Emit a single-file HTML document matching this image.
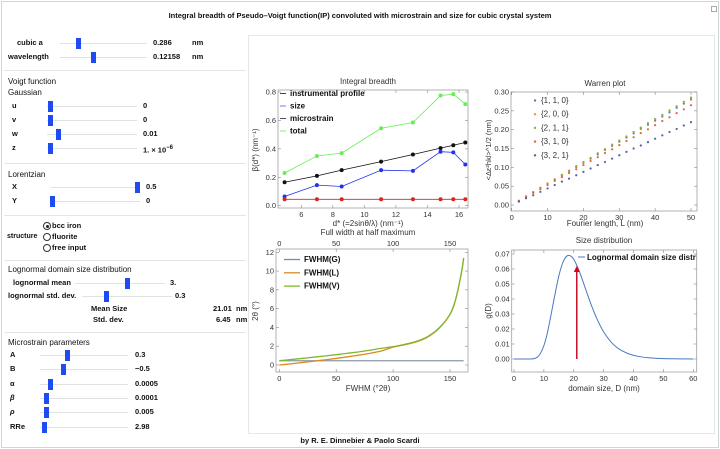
<!DOCTYPE html>
<html><head><meta charset="utf-8">
<style>
body{margin:0;background:#fff;font-family:"Liberation Sans",sans-serif;}
#root{position:relative;width:720px;height:449px;overflow:hidden;background:#fff;}
.t{position:absolute;font-size:8px;color:#111;white-space:nowrap;line-height:10px;}
.b{font-weight:bold;font-size:7.5px;}
.sep{position:absolute;left:4px;width:242px;height:1px;background:#e4e6e6;}
.track{position:absolute;height:1px;background:#e2e2e2;}
.handle{position:absolute;width:5px;height:11px;background:#1f4cf0;}
.radio{position:absolute;width:6px;height:6px;border:1px solid #333;border-radius:50%;background:#fff;}
svg text{font-family:"Liberation Sans",sans-serif;}
</style></head><body>
<div id="root">
<div style="position:absolute;left:1px;top:1px;width:716px;height:445px;border:1px solid #cfd6d6;"></div>
<div class="t b" style="left:0;width:720px;text-align:center;top:11px;">Integral breadth of Pseudo–Voigt function(IP) convoluted with microstrain and size for cubic crystal system</div>
<div style="position:absolute;left:711px;top:6px;width:4px;height:4px;border:1px solid #aaa;"></div>
<div style="position:absolute;left:248px;top:35px;width:465px;height:397px;border:1px solid #e3e8e8;"></div>

<div class="t b" style="left:17px;top:38px;">cubic a</div>
<div class="track" style="left:60px;top:43px;width:87px;"></div>
<div class="handle" style="left:76px;top:38px;"></div>
<div class="t b" style="left:153px;top:38px;">0.286</div>
<div class="t b" style="left:192px;top:38px;">nm</div>
<div class="t b" style="left:8px;top:52px;">wavelength</div>
<div class="track" style="left:60px;top:57px;width:87px;"></div>
<div class="handle" style="left:91px;top:52px;"></div>
<div class="t b" style="left:153px;top:52px;">0.12158</div>
<div class="t b" style="left:192px;top:52px;">nm</div>
<div class="sep" style="top:70px;"></div>

<div class="t" style="left:8px;top:77px;">Voigt function</div>
<div class="t" style="left:8px;top:88px;">Gaussian</div>
<div class="t b" style="left:12px;top:101px;">u</div>
<div class="track" style="left:47px;top:106px;width:90px;"></div>
<div class="handle" style="left:48px;top:101px;"></div>
<div class="t b" style="left:143px;top:101px;">0</div>
<div class="t b" style="left:12px;top:115px;">v</div>
<div class="track" style="left:47px;top:120px;width:90px;"></div>
<div class="handle" style="left:48px;top:115px;"></div>
<div class="t b" style="left:143px;top:115px;">0</div>
<div class="t b" style="left:12px;top:129px;">w</div>
<div class="track" style="left:47px;top:134px;width:90px;"></div>
<div class="handle" style="left:56px;top:129px;"></div>
<div class="t b" style="left:143px;top:129px;">0.01</div>
<div class="t b" style="left:12px;top:143px;">z</div>
<div class="track" style="left:47px;top:148px;width:90px;"></div>
<div class="handle" style="left:48px;top:143px;"></div>
<div class="t b" style="left:143px;top:143px;">1. × 10<sup style="font-size:6px">−6</sup></div>
<div class="sep" style="top:163px;"></div>

<div class="t" style="left:8px;top:170px;">Lorentzian</div>
<div class="t b" style="left:12px;top:182px;">X</div>
<div class="track" style="left:50px;top:187px;width:90px;"></div>
<div class="handle" style="left:135px;top:182px;"></div>
<div class="t b" style="left:146px;top:182px;">0.5</div>
<div class="t b" style="left:12px;top:196px;">Y</div>
<div class="track" style="left:50px;top:201px;width:90px;"></div>
<div class="handle" style="left:50px;top:196px;"></div>
<div class="t b" style="left:146px;top:196px;">0</div>
<div class="sep" style="top:215px;"></div>

<div class="radio" style="left:43px;top:222px;"><div style="position:absolute;left:1.5px;top:1.5px;width:3px;height:3px;border-radius:50%;background:#222"></div></div>
<div class="t b" style="left:52px;top:221px;">bcc iron</div>
<div class="t b" style="left:7px;top:232px;font-size:7px;">structure</div>
<div class="radio" style="left:43px;top:233px;"></div>
<div class="t b" style="left:52px;top:232px;">fluorite</div>
<div class="radio" style="left:43px;top:244px;"></div>
<div class="t b" style="left:52px;top:243px;">free input</div>
<div class="sep" style="top:260px;"></div>

<div class="t" style="left:8px;top:265px;">Lognormal domain size distribution</div>
<div class="t b" style="left:13px;top:278px;">lognormal mean</div>
<div class="track" style="left:75px;top:283px;width:90px;"></div>
<div class="handle" style="left:125px;top:278px;"></div>
<div class="t b" style="left:170px;top:278px;">3.</div>
<div class="t b" style="left:8px;top:291px;">lognormal std. dev.</div>
<div class="track" style="left:82px;top:296px;width:90px;"></div>
<div class="handle" style="left:104px;top:291px;"></div>
<div class="t b" style="left:175px;top:291px;">0.3</div>
<div class="t b" style="left:91px;top:304px;">Mean Size</div>
<div class="t b" style="left:213px;top:304px;">21.01</div>
<div class="t b" style="left:236px;top:304px;">nm</div>
<div class="t b" style="left:93px;top:315px;">Std. dev.</div>
<div class="t b" style="left:216px;top:315px;">6.45</div>
<div class="t b" style="left:236px;top:315px;">nm</div>
<div class="sep" style="top:332px;"></div>

<div class="t" style="left:8px;top:338px;">Microstrain parameters</div>
<div class="t b" style="left:10px;top:350px;">A</div>
<div class="track" style="left:40px;top:355px;width:88px;"></div>
<div class="handle" style="left:65px;top:350px;"></div>
<div class="t b" style="left:135px;top:350px;">0.3</div>
<div class="t b" style="left:10px;top:364px;">B</div>
<div class="track" style="left:40px;top:369px;width:88px;"></div>
<div class="handle" style="left:61px;top:364px;"></div>
<div class="t b" style="left:135px;top:364px;">−0.5</div>
<div class="t b" style="left:10px;top:379px;">α</div>
<div class="track" style="left:40px;top:384px;width:88px;"></div>
<div class="handle" style="left:48px;top:379px;"></div>
<div class="t b" style="left:135px;top:379px;">0.0005</div>
<div class="t b" style="left:10px;top:393px;font-style:italic">β</div>
<div class="track" style="left:40px;top:398px;width:88px;"></div>
<div class="handle" style="left:44px;top:393px;"></div>
<div class="t b" style="left:135px;top:393px;">0.0001</div>
<div class="t b" style="left:10px;top:407px;font-style:italic">ρ</div>
<div class="track" style="left:40px;top:412px;width:88px;"></div>
<div class="handle" style="left:44px;top:407px;"></div>
<div class="t b" style="left:135px;top:407px;">0.005</div>
<div class="t b" style="left:10px;top:422px;">RRe</div>
<div class="track" style="left:40px;top:427px;width:88px;"></div>
<div class="handle" style="left:42px;top:422px;"></div>
<div class="t b" style="left:135px;top:422px;">2.98</div>

<div class="t b" style="left:0;width:720px;text-align:center;top:436px;">by R. E. Dinnebier &amp; Paolo Scardi</div>

<svg id="charts" width="720" height="449" style="position:absolute;left:0;top:0;"></svg>
</div>
<script>
// ---- Integral breadth data ----
const ibDstar = [4.94, 6.99, 8.56, 11.06, 13.08, 14.83, 15.64, 16.4];
const ibInstrumental = [0.165, 0.21, 0.25, 0.31, 0.36, 0.405, 0.425, 0.445];
const ibSize = [0.065, 0.145, 0.135, 0.25, 0.245, 0.38, 0.375, 0.29];
const ibMicrostrain = [0.045, 0.045, 0.045, 0.045, 0.045, 0.045, 0.045, 0.045];
const ibTotal = [0.23, 0.35, 0.37, 0.545, 0.585, 0.775, 0.785, 0.715];
const ibXTicks = [6, 8, 10, 12, 14, 16];
const ibYTicks = [0.0, 0.2, 0.4, 0.6, 0.8];
const ibLegend = ["instrumental profile", "size", "microstrain", "total"];
// ---- Warren plot data ----
const warrenL = [2,4,6,8,10,12,14,16,18,20,22,24,26,28,30,32,34,36,38,40,42,44,46,48,50];
const warren110 = [0.011,0.022,0.034,0.045,0.056,0.067,0.078,0.090,0.101,0.112,0.123,0.134,0.146,0.157,0.168,0.179,0.190,0.202,0.213,0.224,0.235,0.246,0.258,0.269,0.280];
const warren200 = [0.011,0.023,0.034,0.046,0.057,0.068,0.080,0.091,0.103,0.114,0.125,0.137,0.148,0.160,0.171,0.182,0.194,0.205,0.217,0.228,0.239,0.251,0.262,0.274,0.285];
const warren211 = [0.011,0.023,0.034,0.046,0.057,0.068,0.080,0.091,0.103,0.114,0.125,0.137,0.148,0.160,0.171,0.182,0.194,0.205,0.217,0.228,0.239,0.251,0.262,0.274,0.285];
const warren310 = [0.011,0.021,0.032,0.042,0.053,0.064,0.074,0.085,0.095,0.106,0.117,0.127,0.138,0.148,0.159,0.170,0.180,0.191,0.201,0.212,0.223,0.233,0.244,0.254,0.265];
const warren321 = [0.009,0.018,0.026,0.035,0.044,0.053,0.062,0.070,0.079,0.088,0.097,0.106,0.114,0.123,0.132,0.141,0.150,0.158,0.167,0.176,0.185,0.194,0.202,0.211,0.220];
const warrenLegend = ["{1, 1, 0}", "{2, 0, 0}", "{2, 1, 1}", "{3, 1, 0}", "{3, 2, 1}"];
const warrenXTicks = [0, 10, 20, 30, 40, 50];
const warrenYTicks = [0.00, 0.05, 0.10, 0.15, 0.20, 0.25, 0.30];
// ---- FWHM data ----
const fwhmX = [0,10,20,30,40,50,60,70,80,90,100,110,120,130,140,150,155,160,162];
const fwhmG = [0.45,0.45,0.45,0.45,0.45,0.45,0.45,0.45,0.45,0.45,0.45,0.45,0.45,0.45,0.45,0.45,0.45,0.45,0.45];
const fwhmL = [0.0,0.12,0.26,0.4,0.55,0.7,0.87,1.05,1.25,1.5,1.9,2.15,2.45,2.95,3.85,5.4,7.0,9.8,11.4];
const fwhmV = [0.46,0.58,0.7,0.83,0.96,1.1,1.25,1.4,1.58,1.78,1.95,2.2,2.5,3.0,3.9,5.4,7.0,9.8,11.4];
const fwhmXTicks = [0, 50, 100, 150];
const fwhmYTicks = [0, 2, 4, 6, 8, 10, 12];
const fwhmLegend = ["FWHM(G)", "FWHM(L)", "FWHM(V)"];
// ---- Size distribution data ----
const sizeD = [0,4,6,7,8,9,10,11,12,13,14,15,16,17,18,19,20,21,22,23,24,26,28,30,33,36,40,45,50,55,60];
const sizeG = [0,0,0.00007,0.0004,0.0015,0.0043,0.0089,0.0160,0.0254,0.0358,0.046,0.0554,0.0624,0.0670,0.069,0.0686,0.0665,0.0625,0.0577,0.0521,0.0464,0.0353,0.0257,0.0181,0.0102,0.0056,0.0024,0.0008,0.00026,0.0001,0];
const sizeMean = [21.01];
const sizeArrowTop = [0.062];
const sizeXTicks = [0, 10, 20, 30, 40, 50, 60];
const sizeYTicks = [0.00, 0.01, 0.02, 0.03, 0.04, 0.05, 0.06, 0.07];

const NS = "http://www.w3.org/2000/svg";
const svg = document.getElementById('charts');
function el(tag, attrs, parent) {
  const e = document.createElementNS(NS, tag);
  for (const k in attrs) e.setAttribute(k, attrs[k]);
  (parent || svg).appendChild(e);
  return e;
}
function txt(s, x, y, size, anchor, parent, bold) {
  const t = el('text', {x: x, y: y, 'font-size': size, 'text-anchor': anchor || 'middle', fill: '#333', 'font-weight': bold ? 'bold' : 'normal'}, parent);
  t.textContent = s;
  return t;
}
function lin(d0, d1, r0, r1) { return v => r0 + (v - d0) * (r1 - r0) / (d1 - d0); }
function frame(name, x0, y0, x1, y1) {
  const g = el('g', {});
  
  
  const r = el('rect', {x: x0, y: y0, width: x1 - x0, height: y1 - y0, fill: 'none', stroke: '#a0a0a0', 'stroke-width': 0.8}, g);
  
  
  return g;
}
function xTicks(g, ticks, sx, y0, y1, fmt, top) {
  ticks.forEach(v => {
    const x = sx(v);
    el('line', {x1: x, x2: x, y1: y1, y2: y1 - 3, stroke: '#888', 'stroke-width': 0.6}, g);
    el('line', {x1: x, x2: x, y1: y0, y2: y0 + 3, stroke: '#888', 'stroke-width': 0.6}, g);
    const t = txt(fmt(v), x, y1 + 9, 7.5, 'middle', g);
    
    
    if (top) {
      const t2 = txt(fmt(v), x, y0 - 3, 7.5, 'middle', g);
      
      
    }
  });
}
function yTicks(g, ticks, sy, x0, x1, fmt) {
  ticks.forEach(v => {
    const y = sy(v);
    el('line', {x1: x0, x2: x0 + 3, y1: y, y2: y, stroke: '#888', 'stroke-width': 0.6}, g);
    el('line', {x1: x1, x2: x1 - 3, y1: y, y2: y, stroke: '#888', 'stroke-width': 0.6}, g);
    const t = txt(fmt(v), x0 - 2, y + 2.5, 7.5, 'end', g);
    
    
  });
}
function poly(g, xs, ys, sx, sy, color, w, name) {
  const p = el('polyline', {points: xs.map((x, i) => sx(x) + ',' + sy(ys[i])).join(' '), fill: 'none', stroke: color, 'stroke-width': w}, g);
  
  
  return p;
}
function smooth(g, xs, ys, sx, sy, color, w, name) {
  const P = xs.map((x, i) => [sx(x), sy(ys[i])]);
  let d = 'M' + P[0][0] + ',' + P[0][1];
  for (let i = 0; i < P.length - 1; i++) {
    const p0 = P[Math.max(0, i - 1)], p1 = P[i], p2 = P[i + 1], p3 = P[Math.min(P.length - 1, i + 2)];
    const c1 = [p1[0] + (p2[0] - p0[0]) / 6, p1[1] + (p2[1] - p0[1]) / 6];
    const c2 = [p2[0] - (p3[0] - p1[0]) / 6, p2[1] - (p3[1] - p1[1]) / 6];
    d += ' C' + c1[0] + ',' + c1[1] + ' ' + c2[0] + ',' + c2[1] + ' ' + p2[0] + ',' + p2[1];
  }
  const p = el('path', {d: d, fill: 'none', stroke: color, 'stroke-width': w}, g);
  
  
  return p;
}

// ===== Integral breadth =====
(function () {
  const x0 = 278, x1 = 468, y0 = 90, y1 = 208;
  const g = frame('integral-breadth-chart', x0, y0, x1, y1);
  const sx = lin(6, 16, 301.3, 459), sy = lin(0, 0.8, 205.7, 92);
  xTicks(g, ibXTicks, sx, y0, y1, v => String(v));
  yTicks(g, ibYTicks, sy, x0, x1, v => v.toFixed(1));
  const tt = txt('Integral breadth', 368, 84, 8, 'middle', g);  
  const xl = txt('d* (=2sinθ/λ)  (nm⁻¹)', 368, 226, 8, 'middle', g);  
  const yl = txt('β(d*)  (nm⁻¹)', 0, 0, 8, 'middle', g); yl.setAttribute('transform', 'translate(258,150) rotate(-90)');
   
  const series = [[ibTotal, '#66ee55', 'series-total'], [ibInstrumental, '#111', 'series-instrumental'], [ibSize, '#2233ee', 'series-size'], [ibMicrostrain, '#dd2222', 'series-microstrain']];
  series.forEach(s => {
    poly(g, ibDstar, s[0], sx, sy, s[1], 0.8, s[2]);
    ibDstar.forEach((d, i) => {
      const c = el('circle', {cx: sx(d), cy: sy(s[0][i]), r: 2, fill: s[1]}, g);
      
      
    });
  });
  const lc = ['#111', '#5555ee', '#222244', '#66ee55'];
  ibLegend.forEach((n, i) => {
    const y = 96 + i * 12.5;
    el('line', {x1: 280, x2: 286, y1: y - 2.5, y2: y - 2.5, stroke: lc[i], 'stroke-width': 0.8}, g);
    const t = txt(n, 290, y, 8, 'start', g, true); t.setAttribute('fill', '#111');
     
  });
})();

// ===== Warren plot =====
(function () {
  const x0 = 511, x1 = 697, y0 = 92, y1 = 211;
  const g = frame('warren-plot', x0, y0, x1, y1);
  const sx = lin(0, 50, 511.7, 691), sy = lin(0, 0.3, 205, 92);
  xTicks(g, warrenXTicks, sx, y0, y1, v => String(v));
  yTicks(g, warrenYTicks, sy, x0, x1, v => v.toFixed(2));
  const tt = txt('Warren plot', 605, 86, 8, 'middle', g);  
  const xl = txt('Fourier length, L  (nm)', 605, 226, 8, 'middle', g);  
  const yl = txt('<Δε²hkl>^1/2  (nm)', 0, 0, 7.5, 'middle', g); yl.setAttribute('transform', 'translate(491,150) rotate(-90)');
   
  const cols = ['#5e81b5', '#e19c24', '#8fb032', '#eb6235', '#5560a0'];
  const data = [warren110, warren200, warren211, warren310, warren321];
  data.forEach((vals, k) => {
    warrenL.forEach((L, i) => {
      const c = el('circle', {cx: sx(L), cy: sy(vals[i]), r: 1.1, fill: cols[k]}, g);
      
      
    });
  });
  warrenLegend.forEach((n, i) => {
    const y = 103 + i * 13.7;
    el('circle', {cx: 535, cy: y - 2.5, r: 1.2, fill: cols[i]}, g);
    const t = txt(n, 541, y, 8, 'start', g);
     
  });
})();

// ===== FWHM =====
(function () {
  const x0 = 276, x1 = 468, y0 = 249, y1 = 372;
  const g = frame('fwhm-chart', x0, y0, x1, y1);
  const sx = lin(0, 150, 279.3, 450), sy = lin(0, 12, 365, 252.3);
  xTicks(g, fwhmXTicks, sx, y0, y1, v => String(v), true);
  yTicks(g, fwhmYTicks, sy, x0, x1, v => String(v));
  const tt = txt('Full width at half maximum', 368, 235, 8, 'middle', g);  
  const xl = txt('FWHM (°2θ)', 368, 391, 8, 'middle', g);  
  const yl = txt('2θ (°)', 0, 0, 8, 'middle', g); yl.setAttribute('transform', 'translate(258,311) rotate(-90)');
   
  smooth(g, fwhmX, fwhmG, sx, sy, '#8a9aa8', 1.3, 'line-fwhm-g');
  smooth(g, fwhmX, fwhmL, sx, sy, '#d98c1e', 1.3, 'line-fwhm-l');
  smooth(g, fwhmX, fwhmV, sx, sy, '#7fb82e', 1.3, 'line-fwhm-v');
  const cols = ['#6a8fb5', '#d98c1e', '#7fb82e'];
  fwhmLegend.forEach((n, i) => {
    const y = 262 + i * 13.3;
    el('line', {x1: 284, x2: 300, y1: y - 2.5, y2: y - 2.5, stroke: cols[i], 'stroke-width': 1.3}, g);
    const t = txt(n, 304, y, 8, 'start', g, true); t.setAttribute('fill', '#111');
     
  });
})();

// ===== Size distribution =====
(function () {
  const x0 = 511.7, x1 = 696.7, y0 = 250, y1 = 372;
  const g = frame('size-distribution-chart', x0, y0, x1, y1);
  const sx = lin(0, 60, 514, 693.3), sy = lin(0, 0.07, 359, 254);
  xTicks(g, sizeXTicks, sx, y0, y1, v => String(v));
  yTicks(g, sizeYTicks, sy, x0, x1, v => v.toFixed(2));
  const tt = txt('Size distribution', 604, 243, 8, 'middle', g);  
  const xl = txt('domain size, D  (nm)', 604, 391, 8, 'middle', g);  
  const yl = txt('g(D)', 0, 0, 8, 'middle', g); yl.setAttribute('transform', 'translate(491,311) rotate(-90)');
   
  smooth(g, sizeD, sizeG, sx, sy, '#4a78c0', 1, 'lognormal-curve');
  const ax = sx(sizeMean[0]);
  const a = el('line', {x1: ax, x2: ax, y1: sy(0), y2: sy(sizeArrowTop[0]) + 5, stroke: '#c00018', 'stroke-width': 1.4}, g);
  
  
  const ay = sy(sizeArrowTop[0]);
  const h = el('polygon', {points: (ax - 3) + ',' + (ay + 6) + ' ' + (ax + 3) + ',' + (ay + 6) + ' ' + ax + ',' + ay, fill: '#e0001c'}, g);
  
  
  el('line', {x1: 578, x2: 585, y1: 257, y2: 257, stroke: '#4a78c0', 'stroke-width': 1}, g);
  const cp = el('clipPath', {id: 'sdclip'}, g);
  el('rect', {x: 500, y: 240, width: 196.5, height: 40}, cp);
  const t = txt('Lognormal domain size distribution', 587, 260, 8, 'start', g, true);
  t.setAttribute('fill', '#111'); t.setAttribute('clip-path', 'url(#sdclip)');
   
})();
</script>
</body></html>
